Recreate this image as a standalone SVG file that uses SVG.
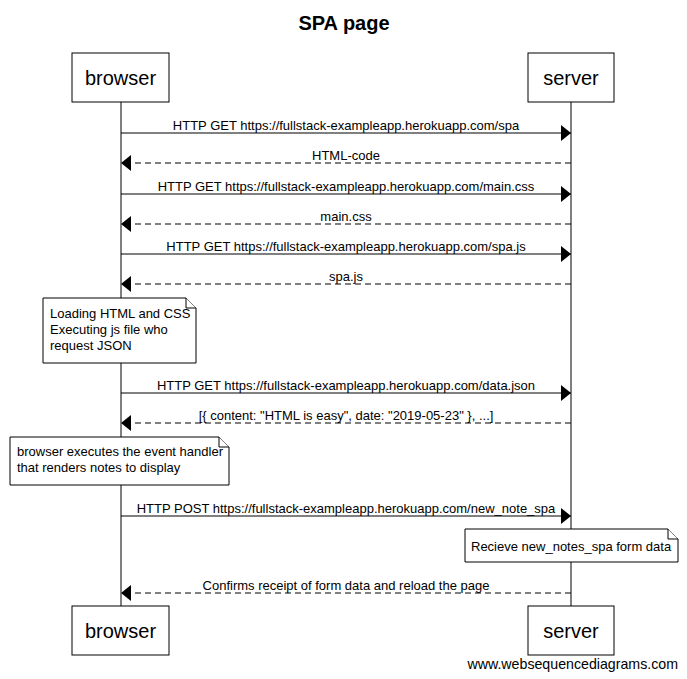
<svg xmlns="http://www.w3.org/2000/svg" width="687" height="679" viewBox="0 0 687 679">
<defs>
<marker id="ah" markerWidth="10" markerHeight="16" refX="10" refY="8" orient="auto" markerUnits="userSpaceOnUse"><path d="M0,0 L10,8 L0,16 Z" fill="#000"/></marker>
</defs>
<style>
text{font-family:"Liberation Sans",Arial,sans-serif;fill:#000}
.pbox{fill:#fff;stroke:#000;stroke-width:1}
.pt{font-size:20px;text-anchor:middle}
.life{stroke:#000;stroke-width:1}
.msg{stroke:#000;stroke-width:1;fill:none;marker-end:url(#ah)}
.ret{stroke-dasharray:6,4}
.ml{font-size:13px;text-anchor:middle}
.note{fill:#fff;stroke:#000;stroke-width:1}
.nt{font-size:13px}
</style>
<rect width="687" height="679" fill="#fff"/>
<text x="344" y="30" font-size="20" font-weight="bold" text-anchor="middle">SPA page</text>
<g id="lifelines">
<line class="life" x1="121" y1="102" x2="121" y2="606"/>
<line class="life" x1="571" y1="102" x2="571" y2="606"/>
</g>
<g id="browser">
<rect class="pbox" x="72" y="53" width="97" height="49"/>
<text class="pt" x="120.5" y="85">browser</text>
</g>
<g id="server">
<rect class="pbox" x="528" y="53" width="86" height="49"/>
<text class="pt" x="571" y="85">server</text>
</g>
<g id="browser-bottom">
<rect class="pbox" x="72" y="606" width="97" height="49"/>
<text class="pt" x="120.5" y="638">browser</text>
</g>
<g id="server-bottom">
<rect class="pbox" x="528" y="606" width="86" height="49"/>
<text class="pt" x="571" y="638">server</text>
</g>
<g id="connectors">
<line class="msg" x1="121" y1="133" x2="571" y2="133"/>
<text class="ml" x="346" y="130">HTTP GET https://fullstack-exampleapp.herokuapp.com/spa</text>
<line class="msg ret" x1="571" y1="163" x2="121" y2="163"/>
<text class="ml" x="346" y="160">HTML-code</text>
<line class="msg" x1="121" y1="194" x2="571" y2="194"/>
<text class="ml" x="346" y="191">HTTP GET https://fullstack-exampleapp.herokuapp.com/main.css</text>
<line class="msg ret" x1="571" y1="224" x2="121" y2="224"/>
<text class="ml" x="346" y="221">main.css</text>
<line class="msg" x1="121" y1="254" x2="571" y2="254"/>
<text class="ml" x="346" y="251">HTTP GET https://fullstack-exampleapp.herokuapp.com/spa.js</text>
<line class="msg ret" x1="571" y1="284" x2="121" y2="284"/>
<text class="ml" x="346" y="281">spa.js</text>
<line class="msg" x1="121" y1="393" x2="571" y2="393"/>
<text class="ml" x="346" y="390">HTTP GET https://fullstack-exampleapp.herokuapp.com/data.json</text>
<line class="msg ret" x1="571" y1="423" x2="121" y2="423"/>
<text class="ml" x="346" y="420">[{ content: "HTML is easy", date: "2019-05-23" }, ...]</text>
<line class="msg" x1="121" y1="516" x2="571" y2="516"/>
<text class="ml" x="346" y="513">HTTP POST https://fullstack-exampleapp.herokuapp.com/new_note_spa</text>
<line class="msg ret" x1="571" y1="593" x2="121" y2="593"/>
<text class="ml" x="346" y="590">Confirms receipt of form data and reload the page</text>
</g>
<g id="note1">
<path class="note" d="M43,298 H186 L196,308 V363 H43 Z"/>
<path class="note" d="M186,298 V308 H196" fill="none"/>
<text class="nt" x="50" y="318">Loading HTML and CSS</text>
<text class="nt" x="50" y="334">Executing js file who</text>
<text class="nt" x="50" y="350">request JSON</text>
</g>
<g id="note2">
<path class="note" d="M10,437 H219 L229,447 V485 H10 Z"/>
<path class="note" d="M219,437 V447 H229" fill="none"/>
<text class="nt" x="17" y="456">browser executes the event handler</text>
<text class="nt" x="17" y="472">that renders notes to display</text>
</g>
<g id="note3">
<path class="note" d="M465,529 H668 L678,539 V562 H465 Z"/>
<path class="note" d="M668,529 V539 H678" fill="none"/>
<text class="nt" x="471" y="551">Recieve new_notes_spa form data</text>
</g>
<text x="678" y="669" font-size="14.2" text-anchor="end">www.websequencediagrams.com</text>
</svg>
